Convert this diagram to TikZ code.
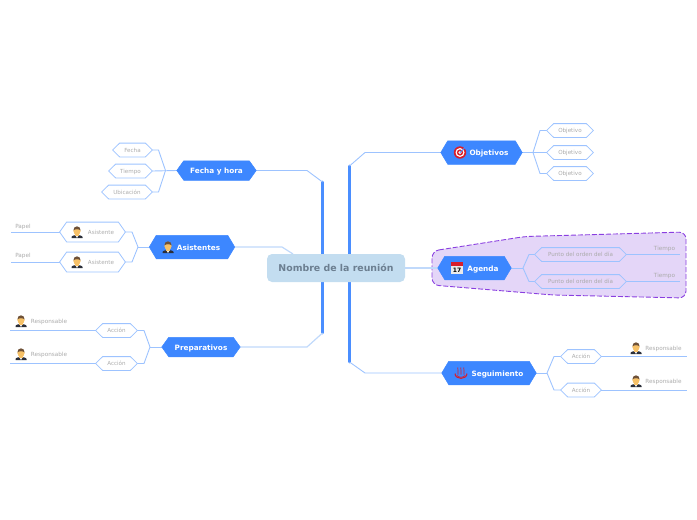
\documentclass[tikz,border=0pt]{standalone}
\usepackage{fontspec}
\setmainfont{DejaVu Sans}
\usetikzlibrary{positioning,calc,backgrounds}
\definecolor{trunkblue}{HTML}{4A8EFF}
\definecolor{mainblue}{HTML}{3D87FF}
\definecolor{subline}{HTML}{9DC3FF}
\definecolor{paleline}{HTML}{C0D9FB}
\definecolor{centerfill}{HTML}{C3DDF0}
\definecolor{centertext}{HTML}{6C7F91}
\definecolor{subtext}{HTML}{ABABAB}
\definecolor{regionfill}{HTML}{E4D6F8}
\definecolor{regionline}{HTML}{8A3FE0}
\definecolor{skin}{HTML}{F6C168}
\definecolor{hair}{HTML}{6E5138}
\definecolor{suit}{HTML}{2B2F3A}
\definecolor{iconred}{HTML}{D81E2C}
\newdimen\hexleft \newdimen\hexright \newdimen\hextop \newdimen\hexbottom
\newdimen\hexmid \newdimen\hexinl \newdimen\hexinr
\makeatletter
\pgfdeclareshape{hexbox}{
  \inheritsavedanchors[from=rectangle]
  \inheritanchorborder[from=rectangle]
  \inheritanchor[from=rectangle]{center}
  \inheritanchor[from=rectangle]{north}
  \inheritanchor[from=rectangle]{south}
  \inheritanchor[from=rectangle]{west}
  \inheritanchor[from=rectangle]{east}
  \backgroundpath{
    \southwest \hexleft=\pgf@x \hexbottom=\pgf@y
    \northeast \hexright=\pgf@x \hextop=\pgf@y
    \hexmid=\hextop \advance\hexmid by \hexbottom \divide\hexmid by 2
    \hexinl=\hexleft \advance\hexinl by 7pt
    \hexinr=\hexright \advance\hexinr by -7pt
    \pgfpathmoveto{\pgfqpoint{\hexleft}{\hexmid}}
    \pgfpathlineto{\pgfqpoint{\hexinl}{\hextop}}
    \pgfpathlineto{\pgfqpoint{\hexinr}{\hextop}}
    \pgfpathlineto{\pgfqpoint{\hexright}{\hexmid}}
    \pgfpathlineto{\pgfqpoint{\hexinr}{\hexbottom}}
    \pgfpathlineto{\pgfqpoint{\hexinl}{\hexbottom}}
    \pgfpathclose
  }
}
\makeatother
\tikzset{
  mainhex/.style={hexbox,fill=mainblue,draw=mainblue,line width=0.5pt,text=white,
    font=\fontsize{7.3}{8}\selectfont\bfseries,inner sep=0pt,minimum height=23pt,text height=6pt,text depth=0pt},
  subhex/.style={hexbox,draw=subline,line width=0.8pt,text=subtext,
    font=\fontsize{5.6}{6}\selectfont,inner sep=0pt,minimum height=13pt,text height=4.6pt,text depth=0pt},
  tag/.style={text=subtext,font=\fontsize{5.7}{6}\selectfont,inner sep=0pt,text height=4.6pt,text depth=0pt},
  branch/.style={subline,line width=0.9pt},
  trunk/.style={trunkblue,line width=2.8pt,line cap=round},
  man/.pic={
    \fill[suit] (-5.5,6) -- (-5.5,4.8) .. controls (-5,3.6) and (-3,3.4) .. (-2,3.2) -- (2,3.2)
      .. controls (3,3.4) and (5,3.6) .. (5.5,4.8) -- (5.5,6) -- cycle;
    \fill[white] (-1.5,3.2) -- (1.5,3.2) -- (0,6) -- cycle;
    \fill[skin] (0,-1) ellipse (3.6 and 4.2);
    \fill[skin] (-1.8,2) rectangle (1.8,4);
    \fill[hair] (-3.6,-1.6) .. controls (-3.8,-7) and (3.8,-7) .. (3.6,-1.6)
      .. controls (2,-3.2) and (-2,-3.2) .. (-3.6,-1.6) -- cycle;
  },
  target/.pic={
    \fill[iconred] (0,0) circle (6.2);
    \fill[white] (0,0) circle (4.5);
    \fill[iconred] (0,0) circle (3.1);
    \fill[white] (0,0) circle (1.6);
    \draw[trunkblue,line width=0.9pt] (0,0) -- (4.8,-4.8);
  },
  calendar/.pic={
    \fill[black!8] (-6,-6) rectangle (6,6);
    \fill[iconred] (-6,-6) rectangle (6,-1.8);
    \node[inner sep=0pt,text=black,font=\fontsize{6}{6}\selectfont\bfseries] (calnum) at (0,2.2) {17};
  },
  springs/.pic={
    \draw[iconred,line width=1pt] (-6,0.5) .. controls (-6,7) and (6,7) .. (6,0.5);
    \draw[iconred,line width=0.7pt] (-4.2,2.4) .. controls (-3,4.8) and (3,4.8) .. (4.2,2.4);
    \foreach \sx in {-3,0,3}{
      \draw[iconred,line width=0.7pt] (\sx,1.5) .. controls (\sx-1.6,-0.5) and (\sx+1.6,-2.5) .. (\sx-0.2,-5.5);
    }
  },
}
\begin{document}
\begin{tikzpicture}[x=1pt,y=-1pt]
  \useasboundingbox (0,0) rectangle (697,520);
  % centre
  \node[fill=centerfill,rounded corners=5pt,minimum width=138pt,minimum height=28pt,inner sep=0pt,
    text=centertext,font=\fontsize{9.4}{10}\selectfont\bfseries,text height=7.4pt,text depth=0pt] (centre) at (336,268) {Nombre de la reunión};
  % main topics
  \node[mainhex,minimum width=79pt,minimum height=19pt] (fecha) at (216.5,170.5) {Fecha y hora};
  \node[mainhex,minimum width=85pt] (asist) at (192,247) {\hspace*{13pt}Asistentes};
  \node[mainhex,minimum width=78pt,minimum height=19pt] (prep) at (201,347) {Preparativos};
  \node[mainhex,minimum width=81pt] (obj) at (481.5,152.5) {\hspace*{15pt}Objetivos};
  \node[mainhex,minimum width=73pt] (agenda) at (474.5,268) {\hspace*{17pt}Agenda};
  \node[mainhex,minimum width=94pt] (seg) at (489,373) {\hspace*{17pt}Seguimiento};
  % fecha y hora
  \node[subhex,minimum width=39pt] (fecha1) at (132.5,150) {Fecha};
  \node[subhex,minimum width=43pt] (fecha2) at (130.5,171) {Tiempo};
  \node[subhex,minimum width=50pt] (fecha3) at (127,192) {Ubicación};
  % asistentes
  \node[subhex,minimum width=65pt,minimum height=19pt] (asist1) at (92.5,232) {\hspace*{17pt}Asistente};
  \node[subhex,minimum width=65pt,minimum height=19pt] (asist2) at (92.5,262) {\hspace*{17pt}Asistente};
  \node[tag] (papel1) at (23,226) {Papel};
  \node[tag] (papel2) at (23,255) {Papel};
  \coordinate (papelend1) at (11,232);
  \coordinate (papelend2) at (11,262);
  % preparativos
  \node[subhex,minimum width=41pt] (prep1) at (116.5,330.5) {Acción};
  \node[subhex,minimum width=41pt] (prep2) at (116.5,363.5) {Acción};
  \node[tag] (resp1) at (49,321) {Responsable};
  \node[tag] (resp2) at (49,354) {Responsable};
  \coordinate (prepend1) at (10,330.5);
  \coordinate (prepend2) at (10,363.5);
  % objetivos
  \node[subhex,minimum width=46pt] (obj1) at (570,130.5) {Objetivo};
  \node[subhex,minimum width=46pt] (obj2) at (570,152.5) {Objetivo};
  \node[subhex,minimum width=46pt] (obj3) at (570,173.5) {Objetivo};
  % agenda
  \node[subhex,minimum width=91pt] (punto1) at (580.5,254.5) {Punto del orden del día};
  \node[subhex,minimum width=91pt] (punto2) at (580.5,281.5) {Punto del orden del día};
  \node[tag] (tiempo1) at (664.5,248) {Tiempo};
  \node[tag] (tiempo2) at (664.5,275) {Tiempo};
  \coordinate (puntoend1) at (680,254.5);
  \coordinate (puntoend2) at (680,281.5);
  % seguimiento
  \node[subhex,minimum width=40pt] (seg1) at (581,356.5) {Acción};
  \node[subhex,minimum width=40pt] (seg2) at (581,390) {Acción};
  \node[tag] (resp3) at (663.5,348) {Responsable};
  \node[tag] (resp4) at (663.5,381) {Responsable};
  \coordinate (segend1) at (687,356.5);
  \coordinate (segend2) at (687,390);
  % icons
  \pic at (168,247) {man};
  \pic at (77,232) {man};
  \pic at (77,262) {man};
  \pic at (21,321) {man};
  \pic at (21,354) {man};
  \pic at (636,348) {man};
  \pic at (636,381) {man};
  \pic at (460,152.5) {target};
  \pic at (457,268) {calendar};
  \pic at (461,373) {springs};
  \begin{scope}[on background layer]
    \draw[regionline,fill=regionfill,line width=0.9pt,dash pattern=on 5pt off 2pt,rounded corners=7pt]
      (432,251) -- (525,236.5) -- (686,232) -- (686,298) -- (553,295) -- (432,285) -- cycle;
    % trunks
    \draw[trunk] (322.5,182) -- (322.5,333);
    \draw[trunk] (349.5,166) -- (349.5,362);
    \draw[branch] (fecha.east) -- (307,170.5) -- (322.5,182);
    \draw[branch,paleline,line width=1.2pt] (asist.east) -- (282,247) -- (293,254);
    \draw[branch,paleline,line width=1.2pt] (prep.east) -- (307,347) -- (322.5,333);
    \draw[branch] (obj.west) -- (365,152.5) -- (349.5,166);
    \draw[branch,paleline,line width=1.2pt] (centre.east) -- (agenda.west);
    \draw[branch] (seg.west) -- (365,373) -- (349.5,362);
    % fecha y hora branches
    \draw[branch] (fecha.west) -- (fecha2.east);
    \draw[branch] (fecha1.east) -- (158.5,150) -- (165.5,170.5) -- (158.5,192) -- (fecha3.east);
    % asistentes branches
    \draw[branch] (asist.west) -- (138,247);
    \draw[branch] (asist1.east) -- (132,232) -- (138,247) -- (132,262) -- (asist2.east);
    \draw[branch] (asist1.west) -- (papelend1);
    \draw[branch] (asist2.west) -- (papelend2);
    % preparativos branches
    \draw[branch] (prep.west) -- (150,347);
    \draw[branch] (prep1.east) -- (144,330.5) -- (150,347) -- (144,363.5) -- (prep2.east);
    \draw[branch] (prep1.west) -- (prepend1);
    \draw[branch] (prep2.west) -- (prepend2);
    % objetivos branches
    \draw[branch] (obj.east) -- (obj2.west);
    \draw[branch] (obj1.west) -- (540,130.5) -- (533,152.5) -- (540,173.5) -- (obj3.west);
    % agenda branches
    \draw[branch] (agenda.east) -- (523,268);
    \draw[branch] (punto1.west) -- (529,254.5) -- (523,268) -- (529,281.5) -- (punto2.west);
    \draw[branch] (punto1.east) -- (puntoend1);
    \draw[branch] (punto2.east) -- (puntoend2);
    % seguimiento branches
    \draw[branch] (seg.east) -- (547,373);
    \draw[branch] (seg1.west) -- (554,356.5) -- (547,373) -- (554,390) -- (seg2.west);
    \draw[branch] (seg1.east) -- (segend1);
    \draw[branch] (seg2.east) -- (segend2);
  \end{scope}
\end{tikzpicture}
\end{document}
